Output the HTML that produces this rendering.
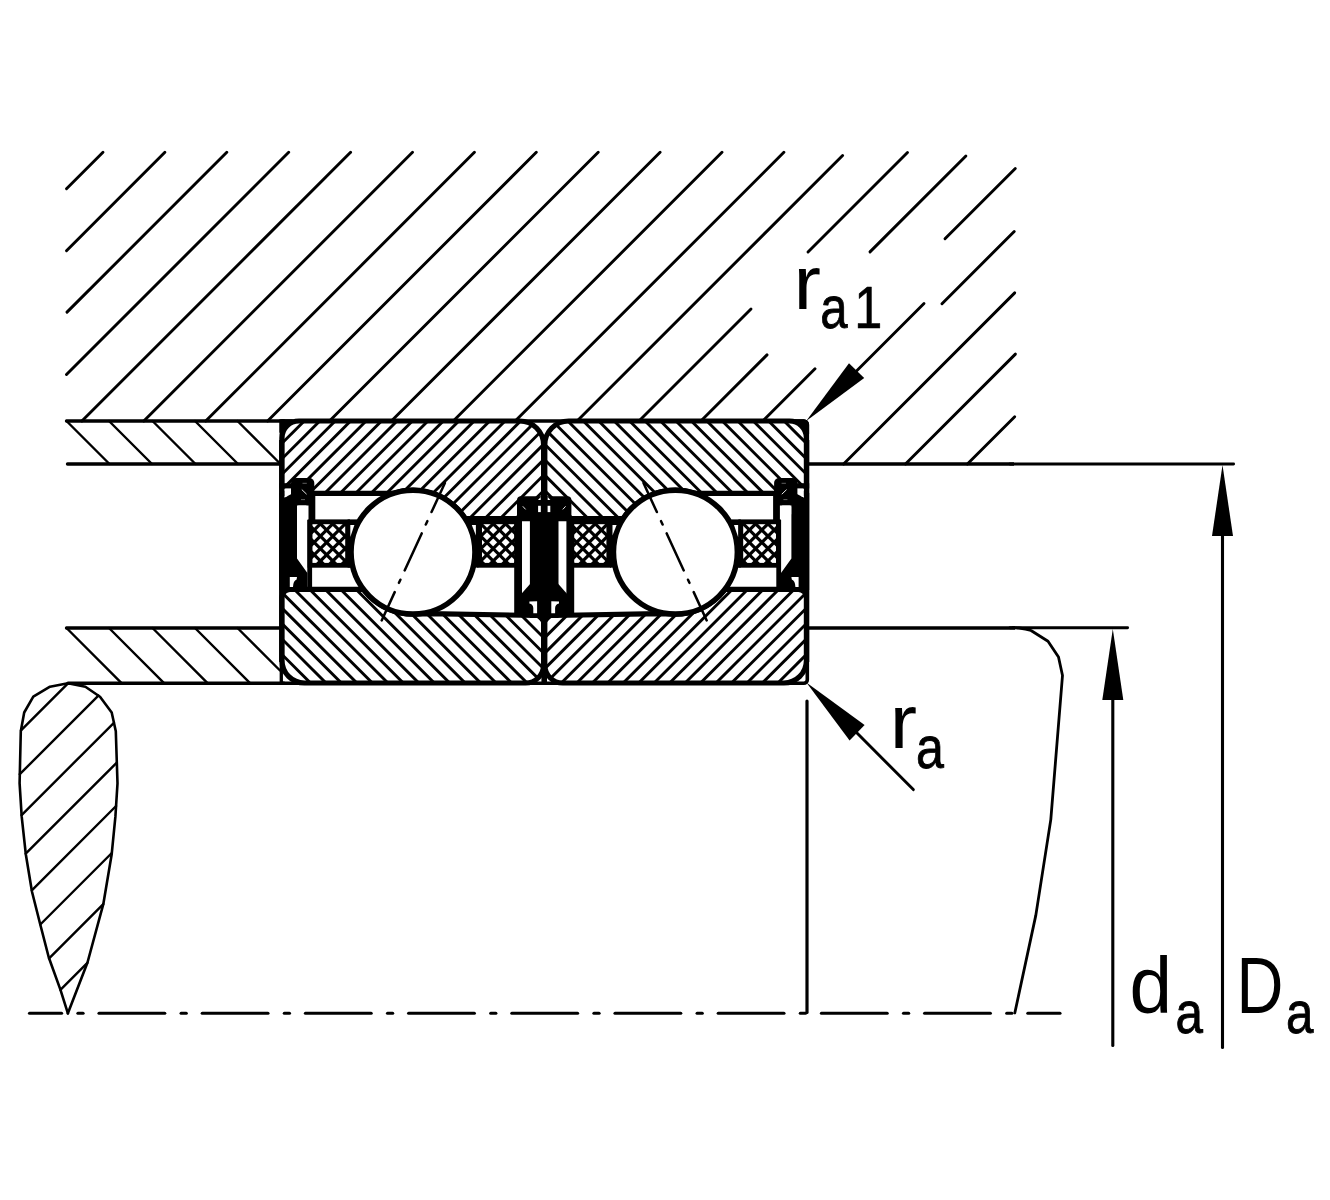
<!DOCTYPE html>
<html lang="en"><head><meta charset="utf-8"><title>Bearing mounting dimensions</title>
<style>
html,body{margin:0;padding:0;background:#fff;}
body{width:1330px;height:1200px;overflow:hidden;}
svg{display:block;}
text{font-family:"Liberation Sans",sans-serif;fill:#000;}
</style></head><body>
<svg width="1330" height="1200" viewBox="0 0 1330 1200">
<rect width="1330" height="1200" fill="#fff"/>
<g id="housing-hatch" stroke="#000" fill="none">
<line x1="66.5" y1="188.8" x2="103.0" y2="152.3" stroke-width="2.9" stroke-linecap="round" />
<line x1="66.5" y1="250.7" x2="164.9" y2="152.3" stroke-width="2.9" stroke-linecap="round" />
<line x1="67.0" y1="312.1" x2="226.8" y2="152.3" stroke-width="2.9" stroke-linecap="round" />
<line x1="66.5" y1="374.5" x2="288.7" y2="152.3" stroke-width="2.9" stroke-linecap="round" />
<line x1="81.9" y1="421.0" x2="350.6" y2="152.3" stroke-width="2.9" stroke-linecap="round" />
<line x1="143.8" y1="421.0" x2="412.5" y2="152.3" stroke-width="2.9" stroke-linecap="round" />
<line x1="205.7" y1="421.0" x2="474.4" y2="152.3" stroke-width="2.9" stroke-linecap="round" />
<line x1="267.6" y1="421.0" x2="536.3" y2="152.3" stroke-width="2.9" stroke-linecap="round" />
<line x1="329.5" y1="421.0" x2="598.2" y2="152.3" stroke-width="2.9" stroke-linecap="round" />
<line x1="391.4" y1="421.0" x2="660.1" y2="152.3" stroke-width="2.9" stroke-linecap="round" />
<line x1="453.3" y1="421.0" x2="722.0" y2="152.3" stroke-width="2.9" stroke-linecap="round" />
<line x1="515.2" y1="421.0" x2="783.9" y2="152.3" stroke-width="2.9" stroke-linecap="round" />
<line x1="577.1" y1="421.0" x2="842.6" y2="155.5" stroke-width="2.9" stroke-linecap="round" />
<line x1="639.0" y1="421.0" x2="751.0" y2="309.0" stroke-width="2.9" stroke-linecap="round" />
<line x1="808.0" y1="252.0" x2="907.5" y2="152.5" stroke-width="2.9" stroke-linecap="round" />
<line x1="700.9" y1="421.0" x2="767.0" y2="354.9" stroke-width="2.9" stroke-linecap="round" />
<line x1="870.0" y1="251.9" x2="965.9" y2="156.0" stroke-width="2.9" stroke-linecap="round" />
<line x1="762.8" y1="421.0" x2="815.0" y2="368.8" stroke-width="2.9" stroke-linecap="round" />
<line x1="945.0" y1="238.8" x2="1015.3" y2="168.5" stroke-width="2.9" stroke-linecap="round" />
<line x1="942.0" y1="303.7" x2="1014.2" y2="231.5" stroke-width="2.9" stroke-linecap="round" />
<line x1="843.6" y1="464.0" x2="1014.7" y2="292.9" stroke-width="2.9" stroke-linecap="round" />
<line x1="905.5" y1="464.0" x2="1015.4" y2="354.1" stroke-width="2.9" stroke-linecap="round" />
<line x1="967.4" y1="464.0" x2="1014.7" y2="416.7" stroke-width="2.9" stroke-linecap="round" />
</g>
<g id="spacers" stroke="#000" fill="none">
<line x1="66.5" y1="421.0" x2="109.5" y2="464.0" stroke-width="2.4" stroke-linecap="round" />
<line x1="109.0" y1="421.0" x2="152.0" y2="464.0" stroke-width="2.4" stroke-linecap="round" />
<line x1="152.5" y1="421.0" x2="195.5" y2="464.0" stroke-width="2.4" stroke-linecap="round" />
<line x1="195.0" y1="421.0" x2="238.0" y2="464.0" stroke-width="2.4" stroke-linecap="round" />
<line x1="237.5" y1="421.0" x2="280.0" y2="463.5" stroke-width="2.4" stroke-linecap="round" />
<line x1="66.5" y1="628.0" x2="121.8" y2="683.3" stroke-width="2.4" stroke-linecap="round" />
<line x1="109.0" y1="628.0" x2="164.3" y2="683.3" stroke-width="2.4" stroke-linecap="round" />
<line x1="152.5" y1="628.0" x2="207.8" y2="683.3" stroke-width="2.4" stroke-linecap="round" />
<line x1="195.0" y1="628.0" x2="250.3" y2="683.3" stroke-width="2.4" stroke-linecap="round" />
<line x1="237.5" y1="628.0" x2="280.0" y2="670.5" stroke-width="2.4" stroke-linecap="round" />
<line x1="67.5" y1="464.0" x2="280.0" y2="464.0" stroke-width="3.4" stroke-linecap="round" />
<line x1="66.5" y1="628.0" x2="280.0" y2="628.0" stroke-width="3.4" stroke-linecap="round" />
<line x1="66.5" y1="421.0" x2="284.0" y2="421.0" stroke-width="3.4" stroke-linecap="round" />
<path d="M282 421 L803.8 421 A3.5 3.5 0 0 1 807.3 424.5 L807.3 464" stroke-width="3.6" fill="none" stroke-linejoin="round" stroke-linecap="round"/>
<line x1="68.0" y1="683.2" x2="284.0" y2="683.2" stroke-width="3.4" stroke-linecap="round" />
<path d="M282 683.2 L803.8 683.2 A3.5 3.5 0 0 0 807.3 679.7 L807.3 628" stroke-width="3.6" fill="none" stroke-linejoin="round" stroke-linecap="round"/>
<line x1="281.3" y1="421.0" x2="281.3" y2="683.0" stroke-width="3.3" stroke-linecap="butt" />
<path d="M794 419.2 L803.8 419.2 A5.3 5.3 0 0 1 809.1 424.5 L809.1 434 Z" fill="#000" stroke="none"/>
</g>
<g id="right-lines" stroke="#000" fill="none">
<line x1="808.0" y1="464.0" x2="1014.0" y2="464.0" stroke-width="3.3" stroke-linecap="butt" />
<line x1="1010.0" y1="464.0" x2="1233.6" y2="464.0" stroke-width="2.9" stroke-linecap="round" />
<line x1="808.0" y1="628.0" x2="1015.0" y2="628.0" stroke-width="3.3" stroke-linecap="butt" />
<line x1="1010.0" y1="627.7" x2="1127.6" y2="627.7" stroke-width="2.9" stroke-linecap="round" />
<path d="M1013 627.6 L1019 628 Q1026 628.8 1031 630.5 L1048 641.2 L1058.5 657 L1062.5 675.5 L1050.8 819.6 L1035.8 915.4 L1014.8 1013" stroke-width="2.8" fill="none" stroke-linejoin="round" stroke-linecap="round"/>
<line x1="807.0" y1="701.0" x2="807.0" y2="1012.5" stroke-width="3.2" stroke-linecap="round" />
<line x1="1222.5" y1="520.0" x2="1222.5" y2="1047.5" stroke-width="3.1" stroke-linecap="round" />
<line x1="1112.8" y1="690.0" x2="1112.8" y2="1045.5" stroke-width="3.1" stroke-linecap="round" />
<path d="M1222.5 465 L1233 536 L1212 536 Z" fill="#000" stroke="none"/>
<path d="M1112.8 629 L1123.3 700 L1102.3 700 Z" fill="#000" stroke="none"/>
<line x1="924.0" y1="303.5" x2="856.0" y2="371.5" stroke-width="2.9" stroke-linecap="round" />
<path d="M806.2 421 L849 363.2 L864.2 378 Z" fill="#000" stroke="none"/>
<line x1="913.3" y1="789.6" x2="857.0" y2="733.0" stroke-width="2.9" stroke-linecap="round" />
<path d="M806.4 682.6 L864.6 725 L849.6 740.4 Z" fill="#000" stroke="none"/>
</g>
<g id="centerline" stroke="#000" fill="none">
<line x1="29.5" y1="1013.3" x2="61.6" y2="1013.3" stroke-width="3.1" stroke-linecap="round" />
<line x1="77.9" y1="1013.3" x2="83.1" y2="1013.3" stroke-width="3.1" stroke-linecap="round" />
<line x1="99.0" y1="1013.3" x2="164.8" y2="1013.3" stroke-width="3.1" stroke-linecap="round" />
<line x1="181.1" y1="1013.3" x2="186.3" y2="1013.3" stroke-width="3.1" stroke-linecap="round" />
<line x1="202.2" y1="1013.3" x2="268.0" y2="1013.3" stroke-width="3.1" stroke-linecap="round" />
<line x1="284.3" y1="1013.3" x2="289.5" y2="1013.3" stroke-width="3.1" stroke-linecap="round" />
<line x1="305.4" y1="1013.3" x2="371.2" y2="1013.3" stroke-width="3.1" stroke-linecap="round" />
<line x1="387.5" y1="1013.3" x2="392.7" y2="1013.3" stroke-width="3.1" stroke-linecap="round" />
<line x1="408.6" y1="1013.3" x2="474.4" y2="1013.3" stroke-width="3.1" stroke-linecap="round" />
<line x1="490.7" y1="1013.3" x2="495.9" y2="1013.3" stroke-width="3.1" stroke-linecap="round" />
<line x1="511.8" y1="1013.3" x2="577.6" y2="1013.3" stroke-width="3.1" stroke-linecap="round" />
<line x1="593.9" y1="1013.3" x2="599.1" y2="1013.3" stroke-width="3.1" stroke-linecap="round" />
<line x1="615.0" y1="1013.3" x2="680.8" y2="1013.3" stroke-width="3.1" stroke-linecap="round" />
<line x1="697.1" y1="1013.3" x2="702.3" y2="1013.3" stroke-width="3.1" stroke-linecap="round" />
<line x1="718.2" y1="1013.3" x2="784.0" y2="1013.3" stroke-width="3.1" stroke-linecap="round" />
<line x1="800.3" y1="1013.3" x2="805.5" y2="1013.3" stroke-width="3.1" stroke-linecap="round" />
<line x1="821.4" y1="1013.3" x2="887.2" y2="1013.3" stroke-width="3.1" stroke-linecap="round" />
<line x1="903.5" y1="1013.3" x2="908.7" y2="1013.3" stroke-width="3.1" stroke-linecap="round" />
<line x1="924.6" y1="1013.3" x2="990.4" y2="1013.3" stroke-width="3.1" stroke-linecap="round" />
<line x1="1006.7" y1="1013.3" x2="1011.9" y2="1013.3" stroke-width="3.1" stroke-linecap="round" />
<line x1="1027.8" y1="1013.3" x2="1060.0" y2="1013.3" stroke-width="3.1" stroke-linecap="round" />
</g>
<g id="teardrop" stroke="#000" fill="none">
<path d="M67.9 683.3 L50.0 686.7 L33.3 696.7 L24.2 712.5 L20.8 731.2 L19.6 783.3 L21.7 816.7 L25.8 854.2 L32.0 891.7 L40.4 925.0 L48.8 957.5 L60.4 989.6 L67.9 1013.3" stroke-width="2.6" fill="none" stroke-linejoin="round" stroke-linecap="round"/>
<path d="M67.9 683.3 L85.4 686.7 L100.0 696.7 L111.7 712.5 L115.8 731.2 L117.5 783.3 L115.4 816.7 L111.7 854.2 L103.3 904.2 L87.5 962.5 L67.9 1013.3" stroke-width="2.6" fill="none" stroke-linejoin="round" stroke-linecap="round"/>
<line x1="21.0" y1="730.3" x2="68.0" y2="683.3" stroke-width="2.4" stroke-linecap="round" />
<line x1="19.8" y1="774.2" x2="98.4" y2="695.6" stroke-width="2.4" stroke-linecap="round" />
<line x1="21.6" y1="815.1" x2="113.9" y2="722.8" stroke-width="2.4" stroke-linecap="round" />
<line x1="25.7" y1="853.7" x2="116.8" y2="762.6" stroke-width="2.4" stroke-linecap="round" />
<line x1="31.8" y1="890.3" x2="116.1" y2="806.0" stroke-width="2.4" stroke-linecap="round" />
<line x1="40.3" y1="924.5" x2="111.8" y2="853.0" stroke-width="2.4" stroke-linecap="round" />
<line x1="49.1" y1="958.4" x2="103.3" y2="904.2" stroke-width="2.4" stroke-linecap="round" />
<line x1="60.4" y1="989.8" x2="87.4" y2="962.8" stroke-width="2.4" stroke-linecap="round" />
</g>
<g id="bearing-left">
<defs><clipPath id="co"><path d="M282.0 493.4 L282.0 438 A17 17 0 0 1 299.0 421 L519.6 421 A24 24 0 0 1 543.6 445 L543.6 518.6 L465.1 518.6 A61.95 61.95 0 0 0 393.2 493.4 Z"/></clipPath><clipPath id="ci"><path d="M290.0 589.4 A8 8 0 0 0 282.0 597.4 L282.0 660.5 A22.5 22.5 0 0 0 304.5 683 L525.6 683 A18 18 0 0 0 543.6 665 L543.6 622.5 A7 7 0 0 0 536.6 615.5 L443.0 613.8 L421.0 613.6 A61.95 61.95 0 0 1 363.5 589.4 Z"/></clipPath><clipPath id="cc1"><rect x="311" y="523" width="35.5" height="41"/></clipPath><clipPath id="cc2"><rect x="481" y="523" width="35" height="41"/></clipPath></defs>
<g clip-path="url(#co)" stroke="#000" stroke-width="2.9">
<line x1="9.9" y1="530" x2="129.9" y2="410"/>
<line x1="25.3" y1="530" x2="145.3" y2="410"/>
<line x1="40.8" y1="530" x2="160.8" y2="410"/>
<line x1="56.2" y1="530" x2="176.2" y2="410"/>
<line x1="71.7" y1="530" x2="191.7" y2="410"/>
<line x1="87.1" y1="530" x2="207.1" y2="410"/>
<line x1="102.6" y1="530" x2="222.6" y2="410"/>
<line x1="118.0" y1="530" x2="238.0" y2="410"/>
<line x1="133.5" y1="530" x2="253.5" y2="410"/>
<line x1="148.9" y1="530" x2="268.9" y2="410"/>
<line x1="164.4" y1="530" x2="284.4" y2="410"/>
<line x1="179.8" y1="530" x2="299.8" y2="410"/>
<line x1="195.3" y1="530" x2="315.3" y2="410"/>
<line x1="210.8" y1="530" x2="330.8" y2="410"/>
<line x1="226.2" y1="530" x2="346.2" y2="410"/>
<line x1="241.6" y1="530" x2="361.6" y2="410"/>
<line x1="257.1" y1="530" x2="377.1" y2="410"/>
<line x1="272.5" y1="530" x2="392.5" y2="410"/>
<line x1="288.0" y1="530" x2="408.0" y2="410"/>
<line x1="303.4" y1="530" x2="423.4" y2="410"/>
<line x1="318.9" y1="530" x2="438.9" y2="410"/>
<line x1="334.3" y1="530" x2="454.3" y2="410"/>
<line x1="349.8" y1="530" x2="469.8" y2="410"/>
<line x1="365.2" y1="530" x2="485.2" y2="410"/>
<line x1="380.7" y1="530" x2="500.7" y2="410"/>
<line x1="396.1" y1="530" x2="516.1" y2="410"/>
<line x1="411.6" y1="530" x2="531.6" y2="410"/>
<line x1="427.0" y1="530" x2="547.0" y2="410"/>
<line x1="442.5" y1="530" x2="562.5" y2="410"/>
<line x1="457.9" y1="530" x2="577.9" y2="410"/>
<line x1="473.4" y1="530" x2="593.4" y2="410"/>
<line x1="488.8" y1="530" x2="608.8" y2="410"/>
<line x1="504.3" y1="530" x2="624.3" y2="410"/>
<line x1="519.8" y1="530" x2="639.8" y2="410"/>
<line x1="535.2" y1="530" x2="655.2" y2="410"/>
<line x1="550.6" y1="530" x2="670.6" y2="410"/>
<line x1="566.1" y1="530" x2="686.1" y2="410"/>
<line x1="581.5" y1="530" x2="701.5" y2="410"/>
<line x1="597.0" y1="530" x2="717.0" y2="410"/>
<line x1="612.4" y1="530" x2="732.4" y2="410"/>
<line x1="627.9" y1="530" x2="747.9" y2="410"/>
<line x1="643.3" y1="530" x2="763.3" y2="410"/>
<line x1="658.8" y1="530" x2="778.8" y2="410"/>
<line x1="674.2" y1="530" x2="794.2" y2="410"/>
<line x1="689.7" y1="530" x2="809.7" y2="410"/>
<line x1="705.1" y1="530" x2="825.1" y2="410"/>
<line x1="720.6" y1="530" x2="840.6" y2="410"/>
<line x1="736.0" y1="530" x2="856.0" y2="410"/>
<line x1="751.5" y1="530" x2="871.5" y2="410"/>
<line x1="766.9" y1="530" x2="886.9" y2="410"/>
<line x1="782.4" y1="530" x2="902.4" y2="410"/>
<line x1="797.8" y1="530" x2="917.8" y2="410"/>
</g>
<g clip-path="url(#ci)" stroke="#000" stroke-width="2.9">
<line x1="99.2" y1="580" x2="209.2" y2="690"/>
<line x1="114.7" y1="580" x2="224.7" y2="690"/>
<line x1="130.1" y1="580" x2="240.1" y2="690"/>
<line x1="145.6" y1="580" x2="255.6" y2="690"/>
<line x1="161.1" y1="580" x2="271.1" y2="690"/>
<line x1="176.6" y1="580" x2="286.6" y2="690"/>
<line x1="192.0" y1="580" x2="302.0" y2="690"/>
<line x1="207.5" y1="580" x2="317.5" y2="690"/>
<line x1="223.0" y1="580" x2="333.0" y2="690"/>
<line x1="238.4" y1="580" x2="348.4" y2="690"/>
<line x1="253.9" y1="580" x2="363.9" y2="690"/>
<line x1="269.4" y1="580" x2="379.4" y2="690"/>
<line x1="284.9" y1="580" x2="394.9" y2="690"/>
<line x1="300.3" y1="580" x2="410.3" y2="690"/>
<line x1="315.8" y1="580" x2="425.8" y2="690"/>
<line x1="331.3" y1="580" x2="441.3" y2="690"/>
<line x1="346.7" y1="580" x2="456.7" y2="690"/>
<line x1="362.2" y1="580" x2="472.2" y2="690"/>
<line x1="377.7" y1="580" x2="487.7" y2="690"/>
<line x1="393.1" y1="580" x2="503.1" y2="690"/>
<line x1="408.6" y1="580" x2="518.6" y2="690"/>
<line x1="424.1" y1="580" x2="534.1" y2="690"/>
<line x1="439.6" y1="580" x2="549.6" y2="690"/>
<line x1="455.0" y1="580" x2="565.0" y2="690"/>
<line x1="470.5" y1="580" x2="580.5" y2="690"/>
<line x1="486.0" y1="580" x2="596.0" y2="690"/>
<line x1="501.4" y1="580" x2="611.4" y2="690"/>
<line x1="516.9" y1="580" x2="626.9" y2="690"/>
<line x1="532.4" y1="580" x2="642.4" y2="690"/>
<line x1="547.8" y1="580" x2="657.8" y2="690"/>
<line x1="563.3" y1="580" x2="673.3" y2="690"/>
<line x1="578.8" y1="580" x2="688.8" y2="690"/>
<line x1="594.2" y1="580" x2="704.2" y2="690"/>
<line x1="609.7" y1="580" x2="719.7" y2="690"/>
<line x1="625.2" y1="580" x2="735.2" y2="690"/>
<line x1="640.7" y1="580" x2="750.7" y2="690"/>
<line x1="656.1" y1="580" x2="766.1" y2="690"/>
<line x1="671.6" y1="580" x2="781.6" y2="690"/>
<line x1="687.1" y1="580" x2="797.1" y2="690"/>
<line x1="702.5" y1="580" x2="812.5" y2="690"/>
<line x1="718.0" y1="580" x2="828.0" y2="690"/>
<line x1="733.5" y1="580" x2="843.5" y2="690"/>
<line x1="749.0" y1="580" x2="859.0" y2="690"/>
<line x1="764.4" y1="580" x2="874.4" y2="690"/>
<line x1="779.9" y1="580" x2="889.9" y2="690"/>
<line x1="795.4" y1="580" x2="905.4" y2="690"/>
<line x1="810.8" y1="580" x2="920.8" y2="690"/>
<line x1="826.3" y1="580" x2="936.3" y2="690"/>
<line x1="841.8" y1="580" x2="951.8" y2="690"/>
<line x1="857.2" y1="580" x2="967.2" y2="690"/>
<line x1="872.7" y1="580" x2="982.7" y2="690"/>
<line x1="888.2" y1="580" x2="998.2" y2="690"/>
</g>
<path d="M282.0 493.4 L282.0 438 A17 17 0 0 1 299.0 421 L519.6 421 A24 24 0 0 1 543.6 445 L543.6 518.6 L465.1 518.6 A61.95 61.95 0 0 0 393.2 493.4 Z" fill="none" stroke="#000" stroke-width="5.2" stroke-linejoin="round"/>
<path d="M290.0 589.4 A8 8 0 0 0 282.0 597.4 L282.0 660.5 A22.5 22.5 0 0 0 304.5 683 L525.6 683 A18 18 0 0 0 543.6 665 L543.6 622.5 A7 7 0 0 0 536.6 615.5 L443.0 613.8 L421.0 613.6 A61.95 61.95 0 0 1 363.5 589.4 Z" fill="none" stroke="#000" stroke-width="5.2" stroke-linejoin="round"/>
<line x1="281.6" y1="440" x2="281.6" y2="662" stroke="#000" stroke-width="5"/>
<g clip-path="url(#cc1)" stroke="#000" stroke-width="3.2">
<line x1="224.6" y1="570" x2="279.6" y2="515"/>
<line x1="224.8" y1="515" x2="279.8" y2="570"/>
<line x1="237.0" y1="570" x2="292.0" y2="515"/>
<line x1="237.2" y1="515" x2="292.2" y2="570"/>
<line x1="249.4" y1="570" x2="304.4" y2="515"/>
<line x1="249.6" y1="515" x2="304.6" y2="570"/>
<line x1="261.8" y1="570" x2="316.8" y2="515"/>
<line x1="262.0" y1="515" x2="317.0" y2="570"/>
<line x1="274.2" y1="570" x2="329.2" y2="515"/>
<line x1="274.4" y1="515" x2="329.4" y2="570"/>
<line x1="286.6" y1="570" x2="341.6" y2="515"/>
<line x1="286.8" y1="515" x2="341.8" y2="570"/>
<line x1="299.0" y1="570" x2="354.0" y2="515"/>
<line x1="299.2" y1="515" x2="354.2" y2="570"/>
<line x1="311.4" y1="570" x2="366.4" y2="515"/>
<line x1="311.6" y1="515" x2="366.6" y2="570"/>
<line x1="323.8" y1="570" x2="378.8" y2="515"/>
<line x1="324.0" y1="515" x2="379.0" y2="570"/>
<line x1="336.2" y1="570" x2="391.2" y2="515"/>
<line x1="336.4" y1="515" x2="391.4" y2="570"/>
<line x1="348.6" y1="570" x2="403.6" y2="515"/>
<line x1="348.8" y1="515" x2="403.8" y2="570"/>
<line x1="361.0" y1="570" x2="416.0" y2="515"/>
<line x1="361.2" y1="515" x2="416.2" y2="570"/>
<line x1="373.4" y1="570" x2="428.4" y2="515"/>
<line x1="373.6" y1="515" x2="428.6" y2="570"/>
<line x1="385.8" y1="570" x2="440.8" y2="515"/>
<line x1="386.0" y1="515" x2="441.0" y2="570"/>
<line x1="398.2" y1="570" x2="453.2" y2="515"/>
<line x1="398.4" y1="515" x2="453.4" y2="570"/>
<line x1="410.6" y1="570" x2="465.6" y2="515"/>
<line x1="410.8" y1="515" x2="465.8" y2="570"/>
</g>
<rect x="310" y="521.8" width="37.60000000000002" height="43.5" fill="none" stroke="#000" stroke-width="4.8"/>
<g clip-path="url(#cc2)" stroke="#000" stroke-width="3.2">
<line x1="409.8" y1="570" x2="464.8" y2="515"/>
<line x1="410.0" y1="515" x2="465.0" y2="570"/>
<line x1="422.2" y1="570" x2="477.2" y2="515"/>
<line x1="422.4" y1="515" x2="477.4" y2="570"/>
<line x1="434.6" y1="570" x2="489.6" y2="515"/>
<line x1="434.8" y1="515" x2="489.8" y2="570"/>
<line x1="447.0" y1="570" x2="502.0" y2="515"/>
<line x1="447.2" y1="515" x2="502.2" y2="570"/>
<line x1="459.4" y1="570" x2="514.4" y2="515"/>
<line x1="459.6" y1="515" x2="514.6" y2="570"/>
<line x1="471.8" y1="570" x2="526.8" y2="515"/>
<line x1="472.0" y1="515" x2="527.0" y2="570"/>
<line x1="484.2" y1="570" x2="539.2" y2="515"/>
<line x1="484.4" y1="515" x2="539.4" y2="570"/>
<line x1="496.6" y1="570" x2="551.6" y2="515"/>
<line x1="496.8" y1="515" x2="551.8" y2="570"/>
<line x1="509.0" y1="570" x2="564.0" y2="515"/>
<line x1="509.2" y1="515" x2="564.2" y2="570"/>
<line x1="521.4" y1="570" x2="576.4" y2="515"/>
<line x1="521.6" y1="515" x2="576.6" y2="570"/>
<line x1="533.8" y1="570" x2="588.8" y2="515"/>
<line x1="534.0" y1="515" x2="589.0" y2="570"/>
<line x1="546.2" y1="570" x2="601.2" y2="515"/>
<line x1="546.4" y1="515" x2="601.4" y2="570"/>
<line x1="558.6" y1="570" x2="613.6" y2="515"/>
<line x1="558.8" y1="515" x2="613.8" y2="570"/>
<line x1="571.0" y1="570" x2="626.0" y2="515"/>
<line x1="571.2" y1="515" x2="626.2" y2="570"/>
<line x1="583.4" y1="570" x2="638.4" y2="515"/>
<line x1="583.6" y1="515" x2="638.6" y2="570"/>
<line x1="595.8" y1="570" x2="650.8" y2="515"/>
<line x1="596.0" y1="515" x2="651.0" y2="570"/>
</g>
<rect x="479.6" y="521.8" width="37.39999999999998" height="43.5" fill="none" stroke="#000" stroke-width="4.8"/>
<g fill="#000" stroke="none">
<path d="M279.2 493 L284.6 493 L284.6 497.6 L291.5 494 L297 494 L297 558.6 L307.4 573 L307.4 590 L279.2 590 Z"/>
<path d="M284.6 488.4 L291.5 488.4 L291.5 494 L284.6 497.6 Z" fill="#fff"/>
<rect x="279.2" y="483.2" width="12.8" height="5.2"/>
<rect x="291" y="478" width="23.3" height="27.5" rx="5"/>
<rect x="308.5" y="493" width="6.8" height="28"/>
<rect x="307.3" y="520" width="4.8" height="70"/>
<path d="M289.8 577 L297 577 L296.6 579.6 Q293.2 581 293 587 L289.8 587 Z" fill="#fff"/>
<rect x="297.2" y="505.6" width="10.2" height="10" rx="1.5" fill="#fff"/>
<path d="M301.8 489.6 L306.6 494.2" stroke="#fff" stroke-width="0.9" fill="none"/>
<path d="M302.5 483.3 L306.8 483.3 M301 499.6 L305 499.6" stroke="#888" stroke-width="0.7" fill="none"/>
<rect x="517" y="496.3" width="28" height="22" rx="4"/>
<rect x="514.2" y="516" width="7.8" height="99"/>
<rect x="529.9" y="514" width="15" height="104"/>
<path d="M521 594.2 L530.5 583.4 L530.5 615 L521 615 Z"/>
<path d="M529.4 601.6 L537.1 601.2 L537.1 613.3 L533.3 613.3 L533.3 608 Q533 604.5 529.4 603.6 Z" fill="#fff"/>
<rect x="538.1" y="505.8" width="2.7" height="6.3" fill="#fff"/>
<path d="M522.8 506.3 L525.6 509.4" stroke="#fff" stroke-width="0.9" fill="none"/>
<path d="M538 500 L540.7 497 L540.7 500 Z" fill="#fff"/>
</g>
<g stroke="none">
<rect x="347.6" y="519.4" width="9.6" height="48.2" fill="#000"/>
<rect x="468.8" y="519.4" width="9.6" height="48.2" fill="#000"/>
</g>
<circle cx="413.0" cy="552.1" r="61.95" fill="#fff" stroke="#000" stroke-width="5.5"/>
<path d="M350.3 525 L354.4 525 L350.3 537 Z" fill="#fff"/>
<path d="M475.9 525 L471.8 525 L475.9 535.5 Z" fill="#fff"/>
<line x1="444.9" y1="483.0" x2="381.7" y2="620.4" stroke="#000" stroke-width="2.5" stroke-linecap="round" stroke-dasharray="32 10 3.7 9.8 40.8 10.2 3.4 10.2 40"/>
<path d="M279.4 419.2 L293 419.2 L279.4 433 Z" fill="#000"/>
</g>
<g id="bearing-right" transform="translate(1088.4,0) scale(-1,1)">
<defs><clipPath id="co2"><path d="M282.0 493.4 L282.0 438 A17 17 0 0 1 299.0 421 L519.6 421 A24 24 0 0 1 543.6 445 L543.6 518.6 L465.1 518.6 A61.95 61.95 0 0 0 393.2 493.4 Z"/></clipPath><clipPath id="ci2"><path d="M290.0 589.4 A8 8 0 0 0 282.0 597.4 L282.0 660.5 A22.5 22.5 0 0 0 304.5 683 L525.6 683 A18 18 0 0 0 543.6 665 L543.6 622.5 A7 7 0 0 0 536.6 615.5 L443.0 613.8 L421.0 613.6 A61.95 61.95 0 0 1 363.5 589.4 Z"/></clipPath><clipPath id="cc3"><rect x="311" y="523" width="35.5" height="41"/></clipPath><clipPath id="cc4"><rect x="481" y="523" width="35" height="41"/></clipPath></defs>
<g clip-path="url(#co2)" stroke="#000" stroke-width="2.9">
<line x1="9.9" y1="530" x2="129.9" y2="410"/>
<line x1="25.3" y1="530" x2="145.3" y2="410"/>
<line x1="40.8" y1="530" x2="160.8" y2="410"/>
<line x1="56.2" y1="530" x2="176.2" y2="410"/>
<line x1="71.7" y1="530" x2="191.7" y2="410"/>
<line x1="87.1" y1="530" x2="207.1" y2="410"/>
<line x1="102.6" y1="530" x2="222.6" y2="410"/>
<line x1="118.0" y1="530" x2="238.0" y2="410"/>
<line x1="133.5" y1="530" x2="253.5" y2="410"/>
<line x1="148.9" y1="530" x2="268.9" y2="410"/>
<line x1="164.4" y1="530" x2="284.4" y2="410"/>
<line x1="179.8" y1="530" x2="299.8" y2="410"/>
<line x1="195.3" y1="530" x2="315.3" y2="410"/>
<line x1="210.8" y1="530" x2="330.8" y2="410"/>
<line x1="226.2" y1="530" x2="346.2" y2="410"/>
<line x1="241.6" y1="530" x2="361.6" y2="410"/>
<line x1="257.1" y1="530" x2="377.1" y2="410"/>
<line x1="272.5" y1="530" x2="392.5" y2="410"/>
<line x1="288.0" y1="530" x2="408.0" y2="410"/>
<line x1="303.4" y1="530" x2="423.4" y2="410"/>
<line x1="318.9" y1="530" x2="438.9" y2="410"/>
<line x1="334.3" y1="530" x2="454.3" y2="410"/>
<line x1="349.8" y1="530" x2="469.8" y2="410"/>
<line x1="365.2" y1="530" x2="485.2" y2="410"/>
<line x1="380.7" y1="530" x2="500.7" y2="410"/>
<line x1="396.1" y1="530" x2="516.1" y2="410"/>
<line x1="411.6" y1="530" x2="531.6" y2="410"/>
<line x1="427.0" y1="530" x2="547.0" y2="410"/>
<line x1="442.5" y1="530" x2="562.5" y2="410"/>
<line x1="457.9" y1="530" x2="577.9" y2="410"/>
<line x1="473.4" y1="530" x2="593.4" y2="410"/>
<line x1="488.8" y1="530" x2="608.8" y2="410"/>
<line x1="504.3" y1="530" x2="624.3" y2="410"/>
<line x1="519.8" y1="530" x2="639.8" y2="410"/>
<line x1="535.2" y1="530" x2="655.2" y2="410"/>
<line x1="550.6" y1="530" x2="670.6" y2="410"/>
<line x1="566.1" y1="530" x2="686.1" y2="410"/>
<line x1="581.5" y1="530" x2="701.5" y2="410"/>
<line x1="597.0" y1="530" x2="717.0" y2="410"/>
<line x1="612.4" y1="530" x2="732.4" y2="410"/>
<line x1="627.9" y1="530" x2="747.9" y2="410"/>
<line x1="643.3" y1="530" x2="763.3" y2="410"/>
<line x1="658.8" y1="530" x2="778.8" y2="410"/>
<line x1="674.2" y1="530" x2="794.2" y2="410"/>
<line x1="689.7" y1="530" x2="809.7" y2="410"/>
<line x1="705.1" y1="530" x2="825.1" y2="410"/>
<line x1="720.6" y1="530" x2="840.6" y2="410"/>
<line x1="736.0" y1="530" x2="856.0" y2="410"/>
<line x1="751.5" y1="530" x2="871.5" y2="410"/>
<line x1="766.9" y1="530" x2="886.9" y2="410"/>
<line x1="782.4" y1="530" x2="902.4" y2="410"/>
<line x1="797.8" y1="530" x2="917.8" y2="410"/>
</g>
<g clip-path="url(#ci2)" stroke="#000" stroke-width="2.9">
<line x1="99.2" y1="580" x2="209.2" y2="690"/>
<line x1="114.7" y1="580" x2="224.7" y2="690"/>
<line x1="130.1" y1="580" x2="240.1" y2="690"/>
<line x1="145.6" y1="580" x2="255.6" y2="690"/>
<line x1="161.1" y1="580" x2="271.1" y2="690"/>
<line x1="176.6" y1="580" x2="286.6" y2="690"/>
<line x1="192.0" y1="580" x2="302.0" y2="690"/>
<line x1="207.5" y1="580" x2="317.5" y2="690"/>
<line x1="223.0" y1="580" x2="333.0" y2="690"/>
<line x1="238.4" y1="580" x2="348.4" y2="690"/>
<line x1="253.9" y1="580" x2="363.9" y2="690"/>
<line x1="269.4" y1="580" x2="379.4" y2="690"/>
<line x1="284.9" y1="580" x2="394.9" y2="690"/>
<line x1="300.3" y1="580" x2="410.3" y2="690"/>
<line x1="315.8" y1="580" x2="425.8" y2="690"/>
<line x1="331.3" y1="580" x2="441.3" y2="690"/>
<line x1="346.7" y1="580" x2="456.7" y2="690"/>
<line x1="362.2" y1="580" x2="472.2" y2="690"/>
<line x1="377.7" y1="580" x2="487.7" y2="690"/>
<line x1="393.1" y1="580" x2="503.1" y2="690"/>
<line x1="408.6" y1="580" x2="518.6" y2="690"/>
<line x1="424.1" y1="580" x2="534.1" y2="690"/>
<line x1="439.6" y1="580" x2="549.6" y2="690"/>
<line x1="455.0" y1="580" x2="565.0" y2="690"/>
<line x1="470.5" y1="580" x2="580.5" y2="690"/>
<line x1="486.0" y1="580" x2="596.0" y2="690"/>
<line x1="501.4" y1="580" x2="611.4" y2="690"/>
<line x1="516.9" y1="580" x2="626.9" y2="690"/>
<line x1="532.4" y1="580" x2="642.4" y2="690"/>
<line x1="547.8" y1="580" x2="657.8" y2="690"/>
<line x1="563.3" y1="580" x2="673.3" y2="690"/>
<line x1="578.8" y1="580" x2="688.8" y2="690"/>
<line x1="594.2" y1="580" x2="704.2" y2="690"/>
<line x1="609.7" y1="580" x2="719.7" y2="690"/>
<line x1="625.2" y1="580" x2="735.2" y2="690"/>
<line x1="640.7" y1="580" x2="750.7" y2="690"/>
<line x1="656.1" y1="580" x2="766.1" y2="690"/>
<line x1="671.6" y1="580" x2="781.6" y2="690"/>
<line x1="687.1" y1="580" x2="797.1" y2="690"/>
<line x1="702.5" y1="580" x2="812.5" y2="690"/>
<line x1="718.0" y1="580" x2="828.0" y2="690"/>
<line x1="733.5" y1="580" x2="843.5" y2="690"/>
<line x1="749.0" y1="580" x2="859.0" y2="690"/>
<line x1="764.4" y1="580" x2="874.4" y2="690"/>
<line x1="779.9" y1="580" x2="889.9" y2="690"/>
<line x1="795.4" y1="580" x2="905.4" y2="690"/>
<line x1="810.8" y1="580" x2="920.8" y2="690"/>
<line x1="826.3" y1="580" x2="936.3" y2="690"/>
<line x1="841.8" y1="580" x2="951.8" y2="690"/>
<line x1="857.2" y1="580" x2="967.2" y2="690"/>
<line x1="872.7" y1="580" x2="982.7" y2="690"/>
<line x1="888.2" y1="580" x2="998.2" y2="690"/>
</g>
<path d="M282.0 493.4 L282.0 438 A17 17 0 0 1 299.0 421 L519.6 421 A24 24 0 0 1 543.6 445 L543.6 518.6 L465.1 518.6 A61.95 61.95 0 0 0 393.2 493.4 Z" fill="none" stroke="#000" stroke-width="5.2" stroke-linejoin="round"/>
<path d="M290.0 589.4 A8 8 0 0 0 282.0 597.4 L282.0 660.5 A22.5 22.5 0 0 0 304.5 683 L525.6 683 A18 18 0 0 0 543.6 665 L543.6 622.5 A7 7 0 0 0 536.6 615.5 L443.0 613.8 L421.0 613.6 A61.95 61.95 0 0 1 363.5 589.4 Z" fill="none" stroke="#000" stroke-width="5.2" stroke-linejoin="round"/>
<line x1="281.6" y1="440" x2="281.6" y2="662" stroke="#000" stroke-width="5"/>
<g clip-path="url(#cc3)" stroke="#000" stroke-width="3.2">
<line x1="224.6" y1="570" x2="279.6" y2="515"/>
<line x1="224.8" y1="515" x2="279.8" y2="570"/>
<line x1="237.0" y1="570" x2="292.0" y2="515"/>
<line x1="237.2" y1="515" x2="292.2" y2="570"/>
<line x1="249.4" y1="570" x2="304.4" y2="515"/>
<line x1="249.6" y1="515" x2="304.6" y2="570"/>
<line x1="261.8" y1="570" x2="316.8" y2="515"/>
<line x1="262.0" y1="515" x2="317.0" y2="570"/>
<line x1="274.2" y1="570" x2="329.2" y2="515"/>
<line x1="274.4" y1="515" x2="329.4" y2="570"/>
<line x1="286.6" y1="570" x2="341.6" y2="515"/>
<line x1="286.8" y1="515" x2="341.8" y2="570"/>
<line x1="299.0" y1="570" x2="354.0" y2="515"/>
<line x1="299.2" y1="515" x2="354.2" y2="570"/>
<line x1="311.4" y1="570" x2="366.4" y2="515"/>
<line x1="311.6" y1="515" x2="366.6" y2="570"/>
<line x1="323.8" y1="570" x2="378.8" y2="515"/>
<line x1="324.0" y1="515" x2="379.0" y2="570"/>
<line x1="336.2" y1="570" x2="391.2" y2="515"/>
<line x1="336.4" y1="515" x2="391.4" y2="570"/>
<line x1="348.6" y1="570" x2="403.6" y2="515"/>
<line x1="348.8" y1="515" x2="403.8" y2="570"/>
<line x1="361.0" y1="570" x2="416.0" y2="515"/>
<line x1="361.2" y1="515" x2="416.2" y2="570"/>
<line x1="373.4" y1="570" x2="428.4" y2="515"/>
<line x1="373.6" y1="515" x2="428.6" y2="570"/>
<line x1="385.8" y1="570" x2="440.8" y2="515"/>
<line x1="386.0" y1="515" x2="441.0" y2="570"/>
<line x1="398.2" y1="570" x2="453.2" y2="515"/>
<line x1="398.4" y1="515" x2="453.4" y2="570"/>
<line x1="410.6" y1="570" x2="465.6" y2="515"/>
<line x1="410.8" y1="515" x2="465.8" y2="570"/>
</g>
<rect x="310" y="521.8" width="37.60000000000002" height="43.5" fill="none" stroke="#000" stroke-width="4.8"/>
<g clip-path="url(#cc4)" stroke="#000" stroke-width="3.2">
<line x1="409.8" y1="570" x2="464.8" y2="515"/>
<line x1="410.0" y1="515" x2="465.0" y2="570"/>
<line x1="422.2" y1="570" x2="477.2" y2="515"/>
<line x1="422.4" y1="515" x2="477.4" y2="570"/>
<line x1="434.6" y1="570" x2="489.6" y2="515"/>
<line x1="434.8" y1="515" x2="489.8" y2="570"/>
<line x1="447.0" y1="570" x2="502.0" y2="515"/>
<line x1="447.2" y1="515" x2="502.2" y2="570"/>
<line x1="459.4" y1="570" x2="514.4" y2="515"/>
<line x1="459.6" y1="515" x2="514.6" y2="570"/>
<line x1="471.8" y1="570" x2="526.8" y2="515"/>
<line x1="472.0" y1="515" x2="527.0" y2="570"/>
<line x1="484.2" y1="570" x2="539.2" y2="515"/>
<line x1="484.4" y1="515" x2="539.4" y2="570"/>
<line x1="496.6" y1="570" x2="551.6" y2="515"/>
<line x1="496.8" y1="515" x2="551.8" y2="570"/>
<line x1="509.0" y1="570" x2="564.0" y2="515"/>
<line x1="509.2" y1="515" x2="564.2" y2="570"/>
<line x1="521.4" y1="570" x2="576.4" y2="515"/>
<line x1="521.6" y1="515" x2="576.6" y2="570"/>
<line x1="533.8" y1="570" x2="588.8" y2="515"/>
<line x1="534.0" y1="515" x2="589.0" y2="570"/>
<line x1="546.2" y1="570" x2="601.2" y2="515"/>
<line x1="546.4" y1="515" x2="601.4" y2="570"/>
<line x1="558.6" y1="570" x2="613.6" y2="515"/>
<line x1="558.8" y1="515" x2="613.8" y2="570"/>
<line x1="571.0" y1="570" x2="626.0" y2="515"/>
<line x1="571.2" y1="515" x2="626.2" y2="570"/>
<line x1="583.4" y1="570" x2="638.4" y2="515"/>
<line x1="583.6" y1="515" x2="638.6" y2="570"/>
<line x1="595.8" y1="570" x2="650.8" y2="515"/>
<line x1="596.0" y1="515" x2="651.0" y2="570"/>
</g>
<rect x="479.6" y="521.8" width="37.39999999999998" height="43.5" fill="none" stroke="#000" stroke-width="4.8"/>
<g fill="#000" stroke="none">
<path d="M279.2 493 L284.6 493 L284.6 497.6 L291.5 494 L297 494 L297 558.6 L307.4 573 L307.4 590 L279.2 590 Z"/>
<path d="M284.6 488.4 L291.5 488.4 L291.5 494 L284.6 497.6 Z" fill="#fff"/>
<rect x="279.2" y="483.2" width="12.8" height="5.2"/>
<rect x="291" y="478" width="23.3" height="27.5" rx="5"/>
<rect x="308.5" y="493" width="6.8" height="28"/>
<rect x="307.3" y="520" width="4.8" height="70"/>
<path d="M289.8 577 L297 577 L296.6 579.6 Q293.2 581 293 587 L289.8 587 Z" fill="#fff"/>
<rect x="297.2" y="505.6" width="10.2" height="10" rx="1.5" fill="#fff"/>
<path d="M301.8 489.6 L306.6 494.2" stroke="#fff" stroke-width="0.9" fill="none"/>
<path d="M302.5 483.3 L306.8 483.3 M301 499.6 L305 499.6" stroke="#888" stroke-width="0.7" fill="none"/>
<rect x="517" y="496.3" width="28" height="22" rx="4"/>
<rect x="514.2" y="516" width="7.8" height="99"/>
<rect x="529.9" y="514" width="15" height="104"/>
<path d="M521 594.2 L530.5 583.4 L530.5 615 L521 615 Z"/>
<path d="M529.4 601.6 L537.1 601.2 L537.1 613.3 L533.3 613.3 L533.3 608 Q533 604.5 529.4 603.6 Z" fill="#fff"/>
<rect x="538.1" y="505.8" width="2.7" height="6.3" fill="#fff"/>
<path d="M522.8 506.3 L525.6 509.4" stroke="#fff" stroke-width="0.9" fill="none"/>
<path d="M538 500 L540.7 497 L540.7 500 Z" fill="#fff"/>
</g>
<g stroke="none">
<rect x="347.6" y="519.4" width="9.6" height="48.2" fill="#000"/>
<rect x="468.8" y="519.4" width="9.6" height="48.2" fill="#000"/>
</g>
<circle cx="413.0" cy="552.1" r="61.95" fill="#fff" stroke="#000" stroke-width="5.5"/>
<path d="M350.3 525 L354.4 525 L350.3 537 Z" fill="#fff"/>
<path d="M475.9 525 L471.8 525 L475.9 535.5 Z" fill="#fff"/>
<line x1="444.9" y1="483.0" x2="381.7" y2="620.4" stroke="#000" stroke-width="2.5" stroke-linecap="round" stroke-dasharray="32 10 3.7 9.8 40.8 10.2 3.4 10.2 40"/>
</g>
<line x1="544.2" y1="438" x2="544.2" y2="684" stroke="#000" stroke-width="5.6"/>
<g id="labels">
<g id="label-ra1"><text transform="translate(793.46,308.65) scale(1.080,1)" font-size="76.30">r</text><text transform="translate(820.33,328.41) scale(0.827,1)" font-size="59.49" stroke="#000" stroke-width="0.8" stroke-linejoin="round">a</text><text transform="translate(854.26,328.00) scale(0.849,1)" font-size="59.45" stroke="#000" stroke-width="0.6" stroke-linejoin="round">1</text></g>
<g id="label-ra"><text transform="translate(889.69,748.20) scale(1.073,1)" font-size="76.39">r</text><text transform="translate(916.09,768.01) scale(0.844,1)" font-size="59.49" stroke="#000" stroke-width="0.8" stroke-linejoin="round">a</text></g>
<g id="label-da"><text transform="translate(1129.38,1013.11) scale(0.963,1)" font-size="79.46">d</text><text transform="translate(1175.52,1033.01) scale(0.836,1)" font-size="59.12" stroke="#000" stroke-width="0.8" stroke-linejoin="round">a</text></g>
<g id="label-Da"><text transform="translate(1236.58,1013.40) scale(0.819,1)" font-size="79.22">D</text><text transform="translate(1286.02,1033.01) scale(0.836,1)" font-size="59.12" stroke="#000" stroke-width="0.8" stroke-linejoin="round">a</text></g>
</g>
</svg>
</body></html>
